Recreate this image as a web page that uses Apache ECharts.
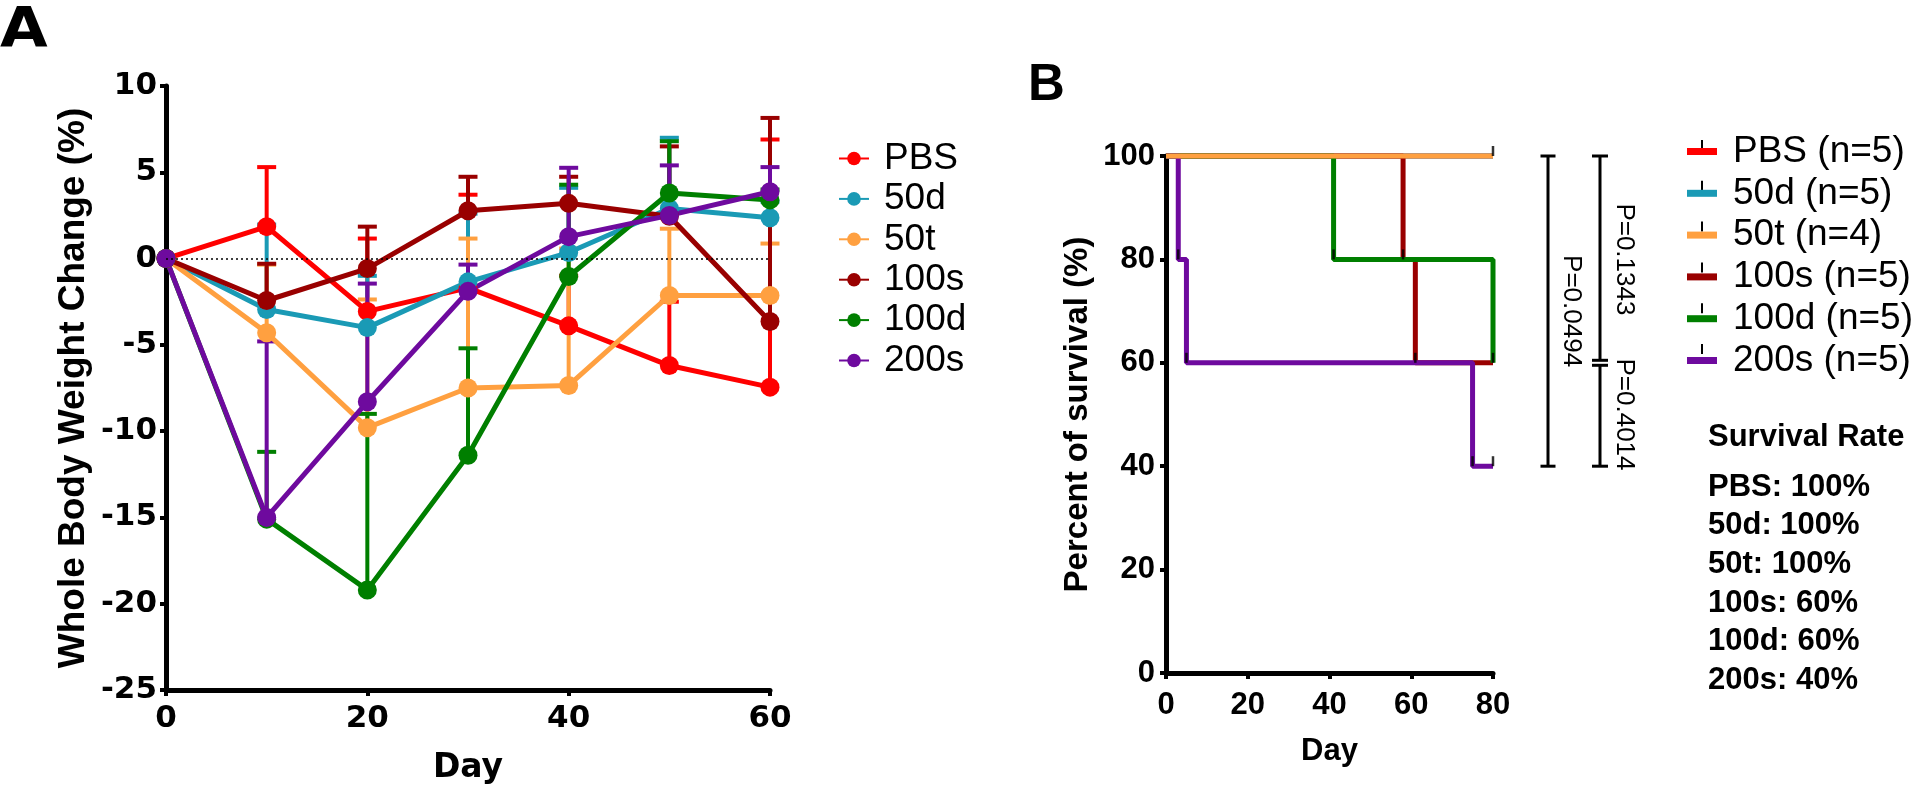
<!DOCTYPE html>
<html>
<head>
<meta charset="utf-8">
<script src="https://cdn.jsdelivr.net/npm/echarts@6/dist/echarts.min.js"></script>
<style>
html,body{margin:0;padding:0;background:#fff;}
#chart{width:1920px;height:793px;}
</style>
</head>
<body>
<div id="chart"></div>
<script>
// ---------- Data ----------
const days = [0, 10, 20, 30, 40, 50, 60];
const groups = ['PBS', '50d', '50t', '100s', '100d', '200s'];
const colors = ['#FF0000', '#1A9AB5', '#FFA040', '#990000', '#007F00', '#6E0A9E'];

// Panel A: mean whole-body weight change (%) and top of error bar
const meanPBS  = [0, 1.85, -3.06, -1.7, -3.9, -6.2, -7.45];
const mean50d  = [0, -2.95, -4.0, -1.35, 0.35, 2.9, 2.37];
const mean50t  = [0, -4.3, -9.8, -7.5, -7.35, -2.14, -2.14];
const mean100s = [0, -2.43, -0.58, 2.77, 3.2, 2.45, -3.65];
const mean100d = [0, -15.1, -19.2, -11.4, -1.04, 3.8, 3.4];
const mean200s = [0, -15.0, -8.3, -1.9, 1.27, 2.5, 3.87];

const topPBS  = [null, 5.3, 1.16, 3.7, -1.0, -2.5, 6.9];
const top50d  = [null, 1.97, -1.0, 2.6, 4.1, 7.0, 3.3];
const top50t  = [null, -0.35, -2.37, 1.16, 0.58, 1.73, 0.87];
const top100s = [null, -0.3, 1.85, 4.74, 4.74, 6.5, 8.15];
const top100d = [null, -11.2, -9.0, -5.2, 4.28, 6.8, 4.0];
const top200s = [null, -4.8, -1.45, -0.35, 5.26, 5.4, 5.3];

const weightTicksX = [0, 20, 40, 60];
const weightTicksY = [-25, -20, -15, -10, -5, 0, 5, 10];

// Panel B: Kaplan-Meier survival [day, percent]
const survPBS  = [[0, 100], [80, 100]];
const surv50d  = [[0, 100], [80, 100]];
const surv50t  = [[0, 100], [80, 100]];
const surv100s = [[0, 100], [58, 80], [61, 60], [80, 60]];
const surv100d = [[0, 100], [41, 80], [80, 60]];
const surv200s = [[0, 100], [3, 80], [5, 60], [75, 40], [80, 40]];
const censorMarks = [[80, 100], [3, 80], [5, 60], [75, 40], [80, 40], [41, 80], [80, 60], [58, 80], [61, 60]];
const groupN = [5, 5, 4, 5, 5, 5];
const survivalRate = [100, 100, 100, 60, 60, 40];
const pValues = [
  { label: 'P=0.0494', from: 100, to: 40 },
  { label: 'P=0.1343', from: 100, to: 60 },
  { label: 'P=0.4014', from: 60, to: 40 }
];

// ---------- Chart ----------
const FONT = '"Liberation Sans", Arial, sans-serif';
const WIDE = '"DejaVu Sans", "Liberation Sans", sans-serif';
const means = [meanPBS, mean50d, mean50t, mean100s, mean100d, mean200s];
const tops = [topPBS, top50d, top50t, top100s, top100d, top200s];
const survs = [survPBS, surv50d, surv50t, surv100s, surv100d, surv200s];
const survNames = groups.map((g, i) => g + ' (n=' + groupN[i] + ')');

const chart = echarts.init(document.getElementById('chart'), null, { renderer: 'canvas' });

function axisCommon(extra) {
  return Object.assign({
    axisLine: { show: true, onZero: false, lineStyle: { color: '#000', width: 5 } },
    axisTick: { show: true, length: 6, lineStyle: { color: '#000', width: 4 } },
    splitLine: { show: false },
    nameMoveOverlap: false,
    nameTextStyle: { color: '#000', fontWeight: 'bold', fontFamily: FONT }
  }, extra);
}

function errRender(color) {
  return function (params, api) {
    const x = api.value(0), m = api.value(1), t = api.value(2);
    const p1 = api.coord([x, m]);
    const p2 = api.coord([x, t]);
    const hw = 9.5;
    return {
      type: 'group',
      children: [
        { type: 'line', shape: { x1: p1[0], y1: p1[1], x2: p2[0], y2: p2[1] }, style: { stroke: color, lineWidth: 4 } },
        { type: 'line', shape: { x1: p2[0] - hw, y1: p2[1], x2: p2[0] + hw, y2: p2[1] }, style: { stroke: color, lineWidth: 4 } }
      ]
    };
  };
}

const series = [];
groups.forEach((g, i) => {
  series.push({
    name: g + ' err',
    type: 'custom',
    xAxisIndex: 0, yAxisIndex: 0,
    renderItem: errRender(colors[i]),
    encode: { x: 0, y: 1 },
    clip: false,
    silent: true,
    z: 2,
    data: days.map((d, k) => [d, means[i][k], tops[i][k]]).filter(r => r[2] !== null)
  });
  const s = {
    name: g,
    type: 'line',
    xAxisIndex: 0, yAxisIndex: 0,
    data: days.map((d, k) => [d, means[i][k]]),
    symbol: 'circle',
    symbolSize: 19,
    showAllSymbol: true,
    clip: false,
    z: 2,
    lineStyle: { color: colors[i], width: 5 },
    itemStyle: { color: colors[i] },
    emphasis: { disabled: true }
  };
  if (i === 0) {
    s.markLine = {
      silent: true, symbol: 'none', label: { show: false },
      lineStyle: { color: '#000', type: [2, 3], width: 1.5 },
      data: [{ yAxis: 0 }]
    };
  }
  series.push(s);
});

groups.forEach((g, i) => {
  series.push({
    name: survNames[i],
    type: 'line',
    xAxisIndex: 1, yAxisIndex: 1,
    data: survs[i],
    step: 'end',
    symbol: 'none',
    clip: false,
    z: g === '50t' ? 4 : 3,
    lineStyle: { color: colors[i], width: 5 },
    itemStyle: { color: colors[i] },
    emphasis: { disabled: true }
  });
});
series.push({
  name: 'censored',
  type: 'scatter',
  xAxisIndex: 1, yAxisIndex: 1,
  data: censorMarks,
  symbol: 'rect',
  symbolSize: [2.5, 10],
  symbolOffset: [0, -5],
  clip: false,
  z: 5,
  itemStyle: { color: '#000' },
  silent: true
});

const labelA = { fontSize: 31, fontWeight: 'bold', color: '#000', fontFamily: WIDE };

const option = {
  animation: false,
  backgroundColor: '#fff',
  textStyle: { fontFamily: FONT },
  grid: [
    { left: 166, top: 86, width: 604, height: 604, containLabel: false, outerBoundsMode: 'none' },
    { left: 1166, top: 156, width: 327, height: 517, containLabel: false, outerBoundsMode: 'none' }
  ],
  xAxis: [
    axisCommon({
      type: 'value', gridIndex: 0, min: 0, max: 60, interval: 20,
      name: 'Day', nameLocation: 'middle', nameGap: 62,
      nameTextStyle: { color: '#000', fontWeight: 'bold', fontFamily: WIDE, fontSize: 33 },
      axisLabel: Object.assign({ margin: 13, customValues: weightTicksX }, labelA),
      axisTick: { show: true, length: 6, lineStyle: { color: '#000', width: 4 }, customValues: weightTicksX }
    }),
    axisCommon({
      type: 'value', gridIndex: 1, min: 0, max: 80, interval: 20,
      name: 'Day', nameLocation: 'middle', nameGap: 63,
      nameTextStyle: { color: '#000', fontWeight: 'bold', fontFamily: FONT, fontSize: 31 },
      axisLabel: { fontSize: 31, fontWeight: 'bold', color: '#000', margin: 17, fontFamily: FONT }
    })
  ],
  yAxis: [
    axisCommon({
      type: 'value', gridIndex: 0, min: -25, max: 10, interval: 5,
      name: 'Whole Body Weight Change (%)', nameLocation: 'middle', nameGap: 74,
      nameTextStyle: { color: '#000', fontWeight: 'bold', fontFamily: FONT, fontSize: 37 },
      axisLabel: Object.assign({ margin: 9, customValues: weightTicksY }, labelA),
      axisTick: { show: true, length: 6, lineStyle: { color: '#000', width: 4 }, customValues: weightTicksY }
    }),
    axisCommon({
      type: 'value', gridIndex: 1, min: 0, max: 100, interval: 20,
      name: 'Percent of survival (%)', nameLocation: 'middle', nameGap: 72,
      nameTextStyle: { color: '#000', fontWeight: 'bold', fontFamily: FONT, fontSize: 33 },
      axisLabel: { fontSize: 31, fontWeight: 'bold', color: '#000', margin: 11, fontFamily: FONT }
    })
  ],
  legend: [
    {
      orient: 'vertical', left: 838, top: 140, padding: 0,
      itemWidth: 30, itemHeight: 17, itemGap: 3.4,
      data: groups,
      selectedMode: false,
      textStyle: { fontSize: 37, lineHeight: 36, color: '#000', fontFamily: FONT, padding: [0, 0, 0, 10] }
    },
    {
      orient: 'vertical', left: 1687, top: 133, padding: 0,
      itemWidth: 30, itemHeight: 7, itemGap: 4.8,
      icon: 'rect',
      data: survNames,
      selectedMode: false,
      textStyle: { fontSize: 37, lineHeight: 36, color: '#000', fontFamily: FONT, padding: [0, 0, 0, 11] }
    }
  ],
  series: series
};
chart.setOption(option);

// ---------- Annotations (positions from the library's scales) ----------
function px(v) { return chart.convertToPixel({ gridIndex: 1 }, [80, v]); }
const xEnd = px(100)[0];
const graphics = [];
graphics.push({ type: 'text', x: 0, y: 32, scaleX: 1.12,
  style: { text: 'A', font: 'bold 55px ' + WIDE, fill: '#000', verticalAlign: 'middle' } });
graphics.push({ type: 'text', left: 1028, top: 60, style: { text: 'B', font: 'bold 51px ' + FONT, fill: '#000' } });

function bracket(x, y1, y2, cap) {
  graphics.push({ type: 'line', shape: { x1: x, y1: y1, x2: x, y2: y2 }, style: { stroke: '#000', lineWidth: 3 } });
  graphics.push({ type: 'line', shape: { x1: x - cap, y1: y1, x2: x + cap, y2: y1 }, style: { stroke: '#000', lineWidth: 3 } });
  graphics.push({ type: 'line', shape: { x1: x - cap, y1: y2, x2: x + cap, y2: y2 }, style: { stroke: '#000', lineWidth: 3 } });
}
function pText(x, y, t) {
  graphics.push({ type: 'text', x: x, y: y, rotation: -Math.PI / 2,
    style: { text: t, font: '26px ' + FONT, fill: '#000', align: 'center', verticalAlign: 'middle' } });
}
// bracket 1: 100 -> 40
{
  const p = pValues[0];
  const ya = px(p.from)[1], yb = px(p.to)[1];
  bracket(xEnd + 55, ya, yb, 7.5);
  pText(xEnd + 78, (ya + yb) / 2, p.label);
}
// brackets 2,3 share a column
{
  const p2 = pValues[1], p3 = pValues[2];
  const ya = px(p2.from)[1], ym = px(p2.to)[1], yb = px(p3.to)[1];
  bracket(xEnd + 107, ya, ym - 2.5, 8);
  bracket(xEnd + 107, ym + 2.5, yb, 8);
  pText(xEnd + 131, (ya + ym) / 2, p2.label);
  pText(xEnd + 131, (ym + yb) / 2, p3.label);
}
// legend B censor ticks
for (let i = 0; i < groups.length; i++) {
  const cy = 133 + 18 + i * 40.8;
  graphics.push({ type: 'line', shape: { x1: 1702, y1: cy - 11, x2: 1702, y2: cy - 1 }, style: { stroke: '#000', lineWidth: 2 } });
}
// survival rate table
graphics.push({ type: 'text', x: 1708, y: 437, style: { text: 'Survival Rate', font: 'bold 31px ' + FONT, fill: '#000', verticalAlign: 'middle' } });
groups.forEach((g, i) => {
  graphics.push({ type: 'text', x: 1708, y: 487 + i * 38.7,
    style: { text: g + ': ' + survivalRate[i] + '%', font: 'bold 31px ' + FONT, fill: '#000', verticalAlign: 'middle' } });
});
chart.setOption({ graphic: graphics });
</script>
</body>
</html>
